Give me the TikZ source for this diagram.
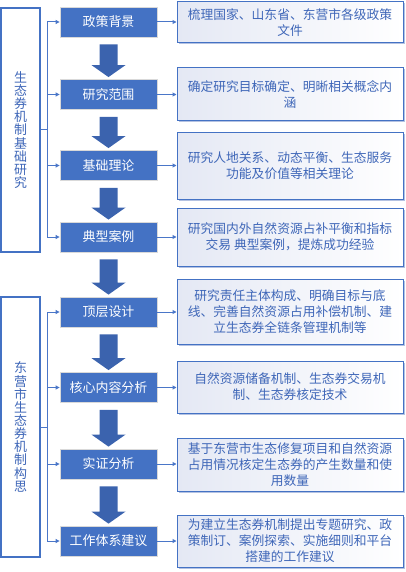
\documentclass[tikz,border=0pt]{standalone}
\usepackage{fontspec}
\setmainfont{Noto Sans CJK SC}
\usetikzlibrary{calc,shadows,arrows.meta}
\definecolor{bbox}{HTML}{4472C4}
\definecolor{arrc}{HTML}{3B63AE}
\definecolor{txtc}{HTML}{3E66B8}
\definecolor{lav}{HTML}{E4E8F4}
\definecolor{shadc}{HTML}{B4C2E2}
\definecolor{linec}{HTML}{4A76C8}
\newcommand{\blkarr}[2]{\path[blockarrow] let \p1=(#1.south), \p2=(#2.north) in
  (\x1-9bp,\y1-7bp) -- (\x1+9bp,\y1-7bp) -- (\x1+9bp,\y2+14bp) -- (\x1+17bp,\y2+14bp)
  -- (\x1,\y2+2bp) -- (\x1-17bp,\y2+14bp) -- (\x1-9bp,\y2+14bp) -- cycle;}
\begin{document}
\begin{tikzpicture}[x=1bp,y=-1bp,
  bluebox/.style={draw=black!15, line width=0.8bp, fill=bbox, text=white,
    minimum width=97bp, minimum height=30bp, inner sep=0pt,
    font=\fontsize{13}{15}\selectfont},
  descbox/.style={draw=bbox, line width=1bp, left color=lav, right color=white,
    text=txtc, minimum width=226bp, align=center, inner sep=0pt,
    font=\fontsize{12.8}{16}\selectfont,
    drop shadow={shadow xshift=1.5bp, shadow yshift=-1.5bp, fill=shadc, opacity=1}},
  sidebox/.style={draw=bbox, line width=1.2bp, fill=white, text=txtc,
    minimum width=39bp, align=center, inner sep=0pt,
    font=\fontsize{13}{13.2}\selectfont},
  conn/.style={draw=linec, line width=1bp, -{Triangle[length=4bp,width=4bp]}},
  plainconn/.style={draw=linec, line width=1bp},
  blockarrow/.style={fill=arrc}]
\useasboundingbox (0,0) rectangle (405,572);

% left boxes
\node[sidebox, minimum height=244bp] (L1) at (20.5,130) {生\\态\\券\\机\\制\\基\\础\\研\\究};
\node[sidebox, minimum height=260bp] (L2) at (20.5,427) {东\\营\\市\\生\\态\\券\\机\\制\\构\\思};

% blue boxes
\node[bluebox] (b1) at (108.5,22) {政策背景};
\node[bluebox] (b2) at (108.5,94.5) {研究范围};
\node[bluebox] (b3) at (108.5,165.5) {基础理论};
\node[bluebox] (b4) at (108.5,237) {典型案例};
\node[bluebox] (b5) at (108.5,312) {顶层设计};
\node[bluebox] (b6) at (108.5,387.5) {核心内容分析};
\node[bluebox] (b7) at (108.5,464) {实证分析};
\node[bluebox] (b8) at (108.5,541) {工作体系建议};

% description boxes
\node[descbox, minimum height=41bp] (r1) at (290,22.5) {梳理国家、山东省、东营市各级政策\\文件};
\node[descbox, minimum height=53bp] (r2) at (290,94.5) {确定研究目标确定、明晰相关概念内\\涵};
\node[descbox, minimum height=66bp] (r3) at (290,166) {研究人地关系、动态平衡、生态服务\\功能及价值等相关理论};
\node[descbox, minimum height=58bp] (r4) at (290,237) {研究国内外自然资源占补平衡和指标\\交易 典型案例，提炼成功经验};
\node[descbox, minimum height=65bp] (r5) at (290,311.5) {研究责任主体构成、明确目标与底\\线、完善自然资源占用补偿机制、建\\立生态券全链条管理机制等};
\node[descbox, minimum height=52bp] (r6) at (290,387) {自然资源储备机制、生态券交易机\\制、生态券核定技术};
\node[descbox, minimum height=53bp] (r7) at (290,464.5) {基于东营市生态修复项目和自然资源\\占用情况核定生态券的产生数量和使\\用数量};
\node[descbox, minimum height=52bp] (r8) at (290,541) {为建立生态券机制提出专题研究、政\\策制订、案例探索、实施细则和平台\\搭建的工作建议};

% block arrows
\blkarr{b1}{b2}
\blkarr{b2}{b3}
\blkarr{b3}{b4}
\blkarr{b4}{b5}
\blkarr{b5}{b6}
\blkarr{b6}{b7}
\blkarr{b7}{b8}

% left connectors
\coordinate (j1) at (47,130);
\coordinate (j2) at (47,427);
\draw[plainconn] (L1.east) -- (j1);
\draw[plainconn] (j1 |- b1.west) -- (j1 |- b4.west);
\draw[plainconn] (L2.east) -- (j2);
\draw[plainconn] (j2 |- b5.west) -- (j2 |- b8.west);
\foreach \b in {b1,b2,b3,b4}{\draw[conn] (j1 |- \b.west) -- (\b.west);}
\foreach \b in {b5,b6,b7,b8}{\draw[conn] (j2 |- \b.west) -- (\b.west);}

% right connectors
\foreach \i in {1,...,8}{\draw[conn] (b\i.east) -- (b\i.east -| r\i.west);}
\end{tikzpicture}
\end{document}
